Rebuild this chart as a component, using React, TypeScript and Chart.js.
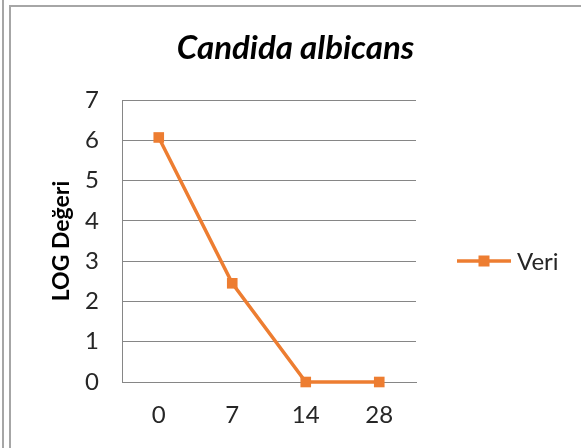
import React, { useEffect, useRef } from "react";
import { Chart, registerables } from "chart.js";

Chart.register(...registerables);

const categories = ["0", "7", "14", "28"];
const values = [6.07, 2.45, 0, 0];
const seriesName = "Veri";
const chartTitle = "Candida albicans";
const yTitle = "LOG Değeri";

const ORANGE = "#ED7D31";
const FONT = "Lato, 'Open Sans', sans-serif";
const TEXT = "#262626";

const legendPlugin = {
  id: "customLegend",
  afterDraw(chart: any) {
    const { ctx, chartArea } = chart;
    const ds = chart.data.datasets[0];
    const y = chartArea.bottom - 121;
    const x0 = chartArea.right + 41;
    const x1 = chartArea.right + 95;
    ctx.save();
    ctx.strokeStyle = ds.borderColor;
    ctx.lineWidth = 3.5;
    ctx.beginPath();
    ctx.moveTo(x0, y);
    ctx.lineTo(x1, y);
    ctx.stroke();
    ctx.fillStyle = ds.backgroundColor;
    const cx = (x0 + x1) / 2;
    ctx.fillRect(cx - 5.5, y - 5.5, 11, 11);
    ctx.fillStyle = TEXT;
    ctx.font = `24px ${FONT}`;
    ctx.textAlign = "left";
    ctx.textBaseline = "middle";
    ctx.fillText(ds.label, x1 + 6, y + 1);
    ctx.restore();
  },
};

export default function App() {
  const ref = useRef<HTMLCanvasElement | null>(null);
  useEffect(() => {
    if (!ref.current) return;
    const chart = new Chart(ref.current, {
      type: "line",
      data: {
        labels: categories,
        datasets: [
          {
            label: seriesName,
            data: values,
            borderColor: ORANGE,
            backgroundColor: ORANGE,
            borderWidth: 3.5,
            pointStyle: "rect",
            pointRadius: 7.5,
            pointHoverRadius: 7.5,
            pointBorderWidth: 0,
            tension: 0,
            clip: false,
          },
        ],
      },
      options: {
        animation: false,
        responsive: true,
        maintainAspectRatio: false,
        layout: { padding: { left: 10, top: 6, right: 0, bottom: 0 } },
        plugins: {
          legend: { display: false },
          tooltip: { enabled: false },
          title: {
            display: true,
            text: chartTitle,
            color: "#000000",
            font: { family: FONT, size: 33, weight: "bold", style: "italic" },
            padding: { top: 22.2, bottom: 32.2 },
          },
        },
        scales: {
          x: {
            offset: true,
            grid: { display: false, drawTicks: false },
            border: { display: true, color: "#868686", width: 1 },
            ticks: {
              color: TEXT,
              font: { family: FONT, size: 24 },
              padding: 18.6,
            },
            afterFit: (s: any) => {
              s.height = 66;
            },
          },
          y: {
            min: 0,
            max: 7,
            ticks: {
              stepSize: 1,
              color: TEXT,
              font: { family: FONT, size: 24 },
              padding: 23,
            },
            grid: { color: "#868686", lineWidth: 1, drawTicks: false },
            border: { display: true, color: "#868686", width: 1 },
            title: {
              display: true,
              text: yTitle,
              color: "#000000",
              font: { family: FONT, size: 23, weight: "bold" },
              padding: { top: 38.2, bottom: 0 },
            },
            afterFit: (s: any) => {
              s.width = 112;
            },
          },
          yRight: {
            type: "linear",
            position: "right",
            display: true,
            grid: { display: false, drawTicks: false },
            border: { display: false },
            ticks: { display: false },
            afterFit: (s: any) => {
              s.width = 165;
            },
          },
        },
      } as any,
      plugins: [legendPlugin],
    });
    return () => chart.destroy();
  }, []);

  const line = { position: "absolute" as const, background: "#a6a6a6" };
  return (
    <div style={{ position: "absolute", left: 0, top: 0, width: 581, height: 448, background: "#fff", overflow: "hidden" }}>
      <div style={{ ...line, left: 2, top: 0, width: 2, height: 448 }} />
      <div style={{ ...line, left: 9, top: 5, width: 2, height: 443 }} />
      <div style={{ ...line, left: 9, top: 5, width: 572, height: 2 }} />
      <div style={{ position: "absolute", left: 0, top: 0, width: 581, height: 448 }}>
        <canvas ref={ref} />
      </div>
    </div>
  );
}
